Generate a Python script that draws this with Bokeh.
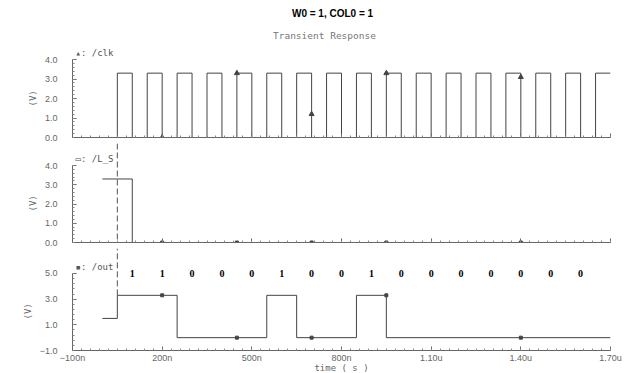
from bokeh.plotting import figure
from bokeh.layouts import column
from bokeh.models import Range1d, FixedTicker, Label, LabelSet, Span, ColumnDataSource, Title
from bokeh.embed import file_html
from bokeh.resources import INLINE

# ---------------- data (time in ns, voltage in V) ----------------
clk_t = [0, 50, 100, 150, 200, 250, 300, 350, 400, 450, 500, 550, 600, 650, 700, 750, 800,
         850, 900, 950, 1000, 1050, 1100, 1150, 1200, 1250, 1300, 1350, 1400, 1450, 1500,
         1550, 1600, 1650, 1700]
clk_v = [0, 3.3, 0, 3.3, 0, 3.3, 0, 3.3, 0, 3.3, 0, 3.3, 0, 3.3, 0, 3.3, 0,
         3.3, 0, 3.3, 0, 3.3, 0, 3.3, 0, 3.3, 0, 3.3, 0, 3.3, 0,
         3.3, 0, 3.3, 3.3]

ls_t = [0, 100, 1700]
ls_v = [3.3, 0, 0]

out_t = [0, 50, 250, 550, 650, 850, 950, 1700]
out_v = [1.5, 3.3, 0, 3.3, 0, 3.3, 0, 0]

marker_t = [200, 450, 700, 950, 1400]
clk_mark_v = [0, 3.3, 1.2, 3.3, 3.1]
ls_mark_v = [0, 0, 0, 0, 0]
out_mark_v = [3.3, 0, 0, 3.3, 0]

bit_t = [100, 200, 300, 400, 500, 600, 700, 800, 900, 1000, 1100, 1200, 1300, 1400, 1500, 1600]
bits = ["1", "1", "0", "0", "0", "1", "0", "0", "1", "0", "0", "0", "0", "0", "0", "0"]

cursor_t = 50

x_ticks = [-100, 200, 500, 800, 1100, 1400, 1700]
x_tick_labels = ["\u2212100n", "200n", "500n", "800n", "1.10u", "1.40u", "1.70u"]
v_ticks = [0, 1, 2, 3, 4]
v_tick_labels = ["0.0", "1.0", "2.0", "3.0", "4.0"]
out_ticks = [-1, 1, 3, 5]
out_tick_labels = ["\u22121.0", "1.0", "3.0", "5.0"]

title_text = "W0 = 1, COL0 = 1"
subtitle_text = "Transient Response"
panel_names = ["\u25b4: /clk", "\u25ad: /L_S", "\u25aa: /out"]
x_label = "time ( s )"
y_label = "(V)"

# ---------------- styling ----------------
WAVE = "#444444"
AXC = "#666666"
LBL = "#666666"
FRAME_W = 538


def make_fig(frame_h, bottom, y0, y1, bounds, yt, ytl, minor_step, show_x_labels):
    p = figure(frame_width=FRAME_W, frame_height=frame_h,
               min_border_left=72, min_border_right=16,
               min_border_top=0, min_border_bottom=bottom,
               x_range=Range1d(-100, 1700), y_range=Range1d(y0, y1),
               output_backend="svg", toolbar_location=None)
    p.outline_line_color = None
    p.xgrid.visible = False
    p.ygrid.visible = False
    p.background_fill_color = "white"
    p.border_fill_color = "white"

    xa = p.xaxis[0]
    xa.ticker = FixedTicker(ticks=x_ticks,
                            minor_ticks=[-100 + 30 * i for i in range(61)])
    xa.axis_line_color = AXC
    xa.major_tick_in = 4
    xa.major_tick_out = 0
    xa.minor_tick_in = 2
    xa.minor_tick_out = 0
    xa.major_tick_line_color = AXC
    xa.minor_tick_line_color = "#888888"
    xa.major_label_text_font = "Liberation Sans"
    xa.major_label_text_font_size = "9px"
    xa.major_label_text_color = LBL
    if show_x_labels:
        xa.major_label_overrides = {t: s for t, s in zip(x_ticks, x_tick_labels)}
        xa.major_label_standoff = 2
        xa.axis_label = x_label
        xa.axis_label_text_font = "DejaVu Sans Mono"
        xa.axis_label_text_font_size = "9px"
        xa.axis_label_text_font_style = "normal"
        xa.axis_label_text_color = LBL
        xa.axis_label_standoff = -3
    else:
        xa.major_label_overrides = {t: "" for t in x_ticks}
        xa.major_label_standoff = 0

    ya = p.yaxis[0]
    lo, hi = bounds
    n = int(round((hi - lo) / minor_step))
    ya.bounds = bounds
    ya.ticker = FixedTicker(ticks=yt, minor_ticks=[lo + minor_step * i for i in range(n + 1)])
    ya.major_label_overrides = {t: s for t, s in zip(yt, ytl)}
    ya.axis_line_color = AXC
    ya.major_tick_in = 4
    ya.major_tick_out = 0
    ya.minor_tick_in = 2
    ya.minor_tick_out = 0
    ya.major_tick_line_color = AXC
    ya.minor_tick_line_color = "#888888"
    ya.major_label_text_font = "Liberation Sans"
    ya.major_label_text_font_size = "9px"
    ya.major_label_text_color = LBL
    ya.major_label_standoff = 15
    # y axis name as a left-side title, so that it can be centred on the axis bounds
    p.add_layout(Title(text=y_label, align="left", offset=31, standoff=8,
                       text_font="DejaVu Sans Mono", text_font_size="9px",
                       text_font_style="normal", text_color=LBL), "left")
    return p


def panel_label(p, y, text):
    p.add_layout(Label(x=-90, y=y, text=text, text_align="left", text_baseline="middle",
                       text_font="DejaVu Sans Mono", text_font_size="9px", text_color="#555555"))


# ---- panel 1: clk ----
p1 = make_fig(137, 6, 0, 7.026, (0, 4), v_ticks, v_tick_labels, 0.2, False)
p1.step(clk_t, clk_v, mode="after", line_color=WAVE, line_width=1)
p1.scatter(marker_t, clk_mark_v, marker="triangle", size=5, color=WAVE)
p1.add_layout(Label(x=770, y=6.36, text=title_text, text_align="center", text_baseline="middle",
                    text_font="Liberation Sans", text_font_size="10px", text_font_style="bold",
                    text_color="black"))
p1.add_layout(Label(x=743, y=5.23, text=subtitle_text, text_align="center", text_baseline="middle",
                    text_font="DejaVu Sans Mono", text_font_size="9.5px", text_color="#777777"))
panel_label(p1, 4.31, panel_names[0])

# ---- panel 2: L_S ----
p2 = make_fig(99, 6, 0, 5.143, (0, 4), v_ticks, v_tick_labels, 0.2, False)
p2.add_layout(Span(location=cursor_t, dimension="height", line_color="#555555",
                   line_width=1, line_dash="6 3"))
p2.step(ls_t, ls_v, mode="after", line_color=WAVE, line_width=1)
p2.scatter(marker_t, ls_mark_v, marker="square", size=3, color=WAVE)
panel_label(p2, 4.36, panel_names[1])

# ---- panel 3: out ----
p3 = make_fig(102, 21, -1, 6.948, (-1, 5), out_ticks, out_tick_labels, 0.4, True)
p3.segment(x0=[cursor_t], y0=[out_v[1]], x1=[cursor_t], y1=[6.948], line_color="#555555",
           line_width=1, line_dash="6 3")
p3.step(out_t, out_v, mode="after", line_color=WAVE, line_width=1)
p3.scatter(marker_t, out_mark_v, marker="square", size=3, color=WAVE)
panel_label(p3, 5.47, panel_names[2])
bit_src = ColumnDataSource(data=dict(x=bit_t, text=bits))
p3.add_layout(LabelSet(x="x", y=5.0, text="text", source=bit_src, text_align="center",
                       text_baseline="middle", text_font="Liberation Sans", text_font_size="10px",
                       text_font_style="bold", text_color="black"))

layout = column(p1, p2, p3, spacing=0)

open("out.html", "w").write(file_html(layout, INLINE))
